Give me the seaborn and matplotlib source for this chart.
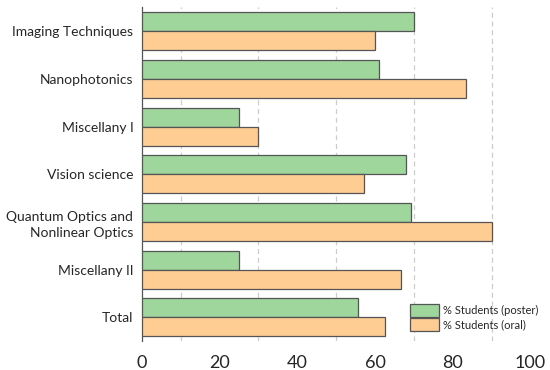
import pandas as pd
import matplotlib
matplotlib.use("Agg")
import matplotlib.pyplot as plt
import seaborn as sns

# ── Data ────────────────────────────────────────────────
sessions = ["Imaging Techniques", "Nanophotonics", "Miscellany I", "Vision science",
            "Quantum Optics and\nNonlinear Optics", "Miscellany II", "Total"]
poster = [70, 61, 25, 68, 69.2, 25, 55.6]
oral   = [60, 83.3, 30, 57.1, 90, 66.7, 62.6]
series = ["% Students (poster)", "% Students (oral)"]

df = pd.DataFrame({
    "Session": sessions * 2,
    "Value": poster + oral,
    "Series": [series[0]] * len(sessions) + [series[1]] * len(sessions),
})

COLORS = {series[0]: "#9fd69c", series[1]: "#fecd93"}

sns.set_style("white")
plt.rcParams["font.family"] = ["Lato", "DejaVu Sans"]

fig, ax = plt.subplots(figsize=(5.5, 3.7), dpi=100)
fig.subplots_adjust(left=0.2576, right=0.9645, top=0.98, bottom=0.078)

sns.barplot(data=df, y="Session", x="Value", hue="Series", palette=COLORS,
            orient="h", width=0.8, edgecolor="#555555", linewidth=0.9,
            saturation=1, ax=ax, zorder=3)

ax.set_xlim(0, 100)
ax.set_ylim(len(sessions) - 0.5, -0.5)
ax.set_xticks(range(0, 101, 20))
ax.set_xticks(range(10, 100, 10), minor=True)
ax.set_yticks(range(len(sessions)), labels=sessions, linespacing=1.4)
ax.grid(False)
ax.grid(True, axis="x", which="minor", color="#cccccc", linestyle=(0, (4, 3)), linewidth=0.9)
ax.set_axisbelow(True)
ax.tick_params(axis="both", which="both", length=0)
ax.tick_params(axis="x", labelsize=13, pad=10)
ax.tick_params(axis="y", labelsize=10, pad=6)
ax.set_xlabel(""); ax.set_ylabel("")

for s in ["top", "right", "bottom"]:
    ax.spines[s].set_visible(False)
ax.spines["left"].set_color("#555555")
ax.spines["left"].set_linewidth(0.9)

ax.legend(loc="lower right", bbox_to_anchor=(538 / 550, 1 - 331 / 370),
          bbox_transform=fig.transFigure, frameon=False, fontsize=8,
          handlelength=2.6, handleheight=1.4, handletextpad=0.3,
          labelspacing=0.1, borderpad=0, borderaxespad=0)

fig.savefig("out.png", dpi=100)
